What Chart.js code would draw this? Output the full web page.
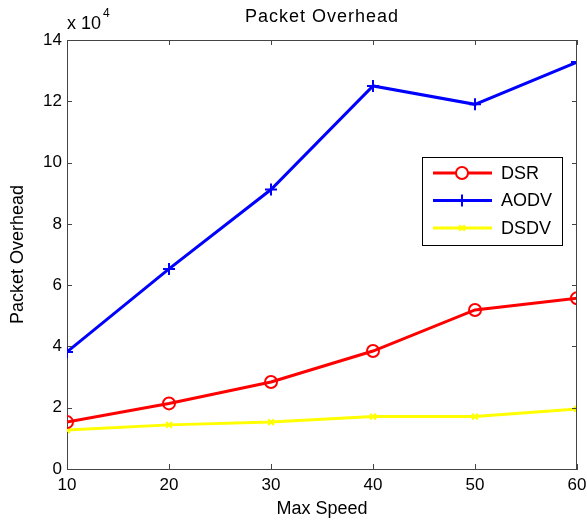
<!DOCTYPE html>
<html>
<head>
<meta charset="utf-8">
<script src="https://cdn.jsdelivr.net/npm/chart.js@4/dist/chart.umd.min.js"></script>
<style>
  html, body { margin: 0; padding: 0; background: #fff; }
  #wrap { width: 587px; height: 521px; }
</style>
</head>
<body>
<div id="wrap"><canvas id="overhead" width="587" height="521"></canvas></div>
<script>
const speeds = [10, 20, 30, 40, 50, 60];
const dsr = [1.53, 2.14, 2.84, 3.85, 5.19, 5.57];
const aodv = [3.82, 6.53, 9.12, 12.5, 11.9, 13.28];
const dsdv = [1.27, 1.44, 1.53, 1.71, 1.71, 1.96];

const font = "'Liberation Sans', Arial, Helvetica, sans-serif";
const axisColor = "#444";

function points(values) {
  return speeds.map((s, i) => ({ x: s, y: values[i] }));
}

// matlab style frame: inward ticks on all sides, title, exponent, legend
const matlabFrame = {
  id: "matlabFrame",
  afterDatasetsDraw(chart) {
    const ctx = chart.ctx;
    const a = chart.chartArea;
    const xs = chart.scales.x;
    const ys = chart.scales.y;
    ctx.save();
    ctx.strokeStyle = axisColor;
    ctx.lineWidth = 1;
    ctx.beginPath();
    ctx.moveTo(a.left, a.top + 0.5);
    ctx.lineTo(a.right, a.top + 0.5);
    ctx.moveTo(a.right - 0.5, a.top);
    ctx.lineTo(a.right - 0.5, a.bottom);
    xs.ticks.forEach((t) => {
      const px = Math.round(xs.getPixelForValue(t.value)) + 0.5;
      ctx.moveTo(px, a.bottom);
      ctx.lineTo(px, a.bottom - 5);
      ctx.moveTo(px, a.top);
      ctx.lineTo(px, a.top + 5);
    });
    ys.ticks.forEach((t) => {
      const py = Math.round(ys.getPixelForValue(t.value)) + 0.5;
      ctx.moveTo(a.left, py);
      ctx.lineTo(a.left + 5, py);
      ctx.moveTo(a.right, py);
      ctx.lineTo(a.right - 5, py);
    });
    ctx.stroke();

    // title
    ctx.fillStyle = "#000";
    ctx.font = "18px " + font;
    ctx.letterSpacing = "1px";
    ctx.textAlign = "center";
    ctx.textBaseline = "middle";
    ctx.fillText("Packet Overhead", (a.left + a.right) / 2, 17);
    ctx.letterSpacing = "0px";

    // exponent label
    ctx.font = "18px " + font;
    ctx.textAlign = "left";
    ctx.fillText("x 10", a.left, 24);
    const w = ctx.measureText("x 10").width;
    ctx.font = "12px " + font;
    ctx.fillText("4", a.left + w + 2, 14);

    // legend
    const lx = 422, ly = 157, lw = 140, lh = 88;
    ctx.fillStyle = "#fff";
    ctx.fillRect(lx, ly, lw, lh);
    ctx.strokeStyle = "#000";
    ctx.strokeRect(lx + 0.5, ly + 0.5, lw, lh);
    ctx.font = "18px " + font;
    chart.data.datasets.forEach((ds, i) => {
      const ry = 173 + i * 27.5;
      ctx.strokeStyle = ds.borderColor;
      ctx.lineWidth = 3;
      ctx.beginPath();
      ctx.moveTo(433, ry);
      ctx.lineTo(492, ry);
      ctx.stroke();
      ctx.lineWidth = 2;
      Chart.helpers.drawPoint(ctx, {
        pointStyle: ds.pointStyle,
        radius: ds.pointRadius,
        borderWidth: 2
      }, 462, ry);
      ctx.fillStyle = "#000";
      ctx.fillText(ds.label, 501, ry + 1);
    });
    ctx.restore();
  }
};

new Chart(document.getElementById("overhead"), {
  type: "line",
  data: {
    datasets: [
      {
        label: "DSR",
        data: points(dsr),
        borderColor: "#ff0000",
        backgroundColor: "rgba(0,0,0,0)",
        borderWidth: 3,
        pointStyle: "circle",
        pointRadius: 6,
        pointBorderWidth: 2
      },
      {
        label: "AODV",
        data: points(aodv),
        borderColor: "#0000ff",
        backgroundColor: "rgba(0,0,0,0)",
        borderWidth: 3,
        pointStyle: "cross",
        pointRadius: 6,
        pointBorderWidth: 2
      },
      {
        label: "DSDV",
        data: points(dsdv),
        borderColor: "#ffff00",
        backgroundColor: "rgba(0,0,0,0)",
        borderWidth: 3,
        pointStyle: "crossRot",
        pointRadius: 4,
        pointBorderWidth: 2
      }
    ]
  },
  options: {
    responsive: false,
    animation: false,
    layout: { padding: { top: 40, right: 10, left: 0, bottom: 0 } },
    plugins: {
      legend: { display: false },
      title: { display: false },
      tooltip: { enabled: false }
    },
    scales: {
      x: {
        type: "linear",
        min: 10,
        max: 60,
        ticks: { stepSize: 10, color: "#000", padding: 6, font: { family: font, size: 17 } },
        grid: { display: false, drawTicks: false },
        border: { color: axisColor },
        title: { display: true, text: "Max Speed", color: "#000", padding: { top: 0, bottom: 1 }, font: { family: font, size: 18 } },
        afterFit(scale) {
          scale.height = 52;
          scale.paddingLeft = 0;
          scale.paddingRight = 0;
        }
      },
      y: {
        min: 0,
        max: 14,
        ticks: { stepSize: 2, color: "#000", padding: 5, font: { family: font, size: 17 } },
        grid: { display: false, drawTicks: false },
        border: { color: axisColor },
        title: { display: true, text: "Packet Overhead", color: "#000", padding: { top: 7, bottom: 0 }, font: { family: font, size: 18 } },
        afterFit(scale) {
          scale.width = 67;
          scale.paddingTop = 0;
          scale.paddingBottom = 0;
        }
      }
    }
  },
  plugins: [matlabFrame]
});
</script>
</body>
</html>
